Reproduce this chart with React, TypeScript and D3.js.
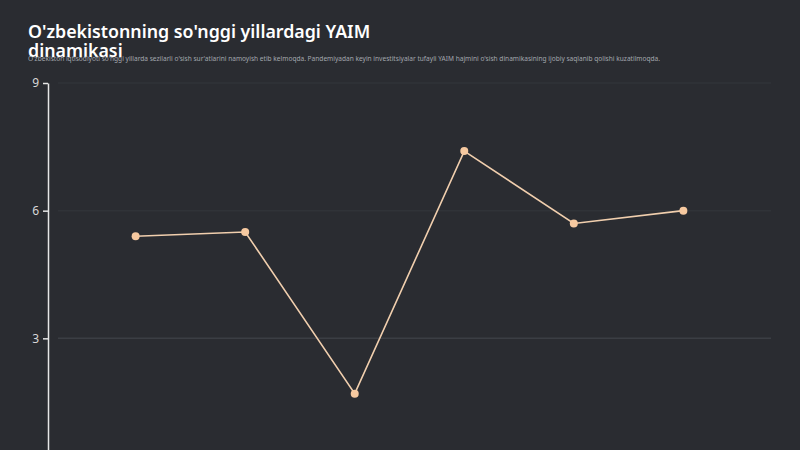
import React, { useEffect, useRef } from 'react'
import * as d3 from 'd3'

const years = ['2018', '2019', '2020', '2021', '2022', '2023']
const growth = [5.4, 5.5, 1.7, 7.4, 5.7, 6.0]
const yTicks = [3, 6, 9]

const title = ["O'zbekistonning so'nggi yillardagi YAIM", 'dinamikasi']
const subtitle =
  "O'zbekiston iqtisodiyoti so'nggi yillarda sezilarli o'sish sur'atlarini namoyish etib kelmoqda. Pandemiyadan keyin investitsiyalar tufayli YAIM hajmini o'sish dinamikasining ijobiy saqlanib qolishi kuzatilmoqda."

const W = 800
const H = 450
// the plot runs below the visible window, its zero line sits at 466
const margin = { top: 83, right: 29, left: 48 }
const plotBottom = 466

export default function App() {
  const svgRef = useRef<SVGSVGElement>(null)

  useEffect(() => {
    if (!svgRef.current) return
    const svg = d3.select(svgRef.current)
    svg.selectAll('*').remove()

    const x = d3
      .scalePoint<string>()
      .domain(years)
      .range([margin.left, W - margin.right])
      .padding(0.8)

    const y = d3.scaleLinear().domain([0, 9]).range([plotBottom, margin.top])

    svg.append('rect').attr('width', W).attr('height', H).attr('fill', '#2a2c31')

    // title
    svg
      .append('text')
      .attr('x', 28)
      .attr('y', 38)
      .attr('fill', '#ffffff')
      .attr('font-family', '"Noto Sans", sans-serif')
      .attr('font-size', 17.8)
      .attr('font-weight', 600)
      .selectAll('tspan')
      .data(title)
      .enter()
      .append('tspan')
      .attr('x', 28)
      .attr('dy', (d, i) => (i === 0 ? 0 : 19))
      .text((d) => d)

    svg
      .append('text')
      .attr('x', 28)
      .attr('y', 61)
      .attr('fill', '#a3a7ae')
      .attr('font-family', '"Noto Sans", sans-serif')
      .attr('font-size', 6.4)
      .attr('textLength', 632)
      .attr('lengthAdjust', 'spacingAndGlyphs')
      .text(subtitle)

    // grid
    svg
      .append('g')
      .selectAll('line')
      .data(yTicks)
      .enter()
      .append('line')
      .attr('x1', margin.left + 10)
      .attr('x2', W - margin.right)
      .attr('y1', (d) => y(d))
      .attr('y2', (d) => y(d))
      .attr('stroke', (d) => (d === 3 ? '#3b3e44' : '#303338'))
      .attr('stroke-width', 1.5)

    // y axis
    const yAxis = svg
      .append('g')
      .attr('transform', `translate(${margin.left},0)`)
      .call(d3.axisLeft(y).tickValues(yTicks).tickSize(5).tickSizeOuter(0).tickPadding(4))
    yAxis.select('.domain').attr('stroke', '#e6e6e6').attr('stroke-width', 1.5)
    yAxis.selectAll('.tick line').attr('stroke', '#e6e6e6').attr('stroke-width', 1.5)
    yAxis
      .selectAll('.tick text')
      .attr('fill', '#d8d8d8')
      .attr('font-size', 12)
      .attr('font-family', '"Noto Sans", sans-serif')

    const line = d3
      .line<number>()
      .x((d, i) => x(years[i]) ?? 0)
      .y((d) => y(d))

    svg
      .append('path')
      .datum(growth)
      .attr('d', line)
      .attr('fill', 'none')
      .attr('stroke', '#f1cfae')
      .attr('stroke-width', 1.6)

    svg
      .append('g')
      .selectAll('circle')
      .data(growth)
      .enter()
      .append('circle')
      .attr('cx', (d, i) => x(years[i]) ?? 0)
      .attr('cy', (d) => y(d))
      .attr('r', 4)
      .attr('fill', '#f6c9a0')
  }, [])

  return (
    <svg
      ref={svgRef}
      width={W}
      height={H}
      style={{ position: 'absolute', left: 0, top: 0, display: 'block' }}
    />
  )
}
